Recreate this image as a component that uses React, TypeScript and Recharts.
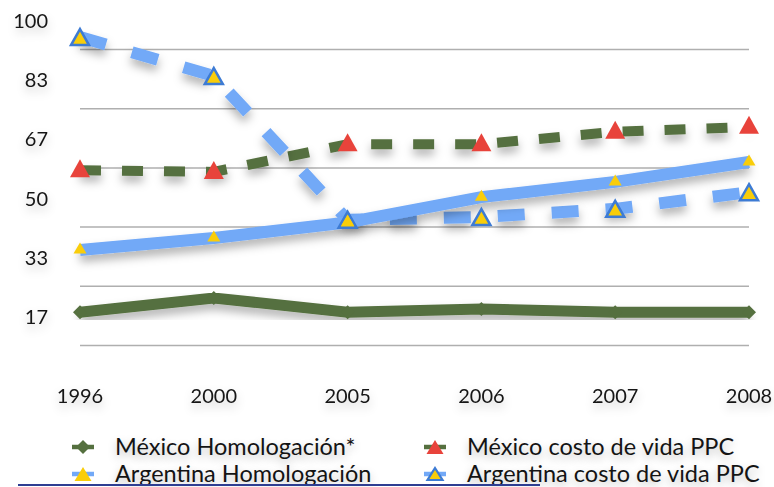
import React from 'react';
import { LineChart, Line, XAxis, YAxis, CartesianGrid } from 'recharts';

const years = ['1996', '2000', '2005', '2006', '2007', '2008'];
const mexicoHomologacion = [17.7, 21.7, 17.7, 18.6, 17.7, 17.7];
const mexicoCosto = [57.7, 57.2, 65.0, 65.0, 68.5, 69.9];
const argentinaHomologacion = [35.2, 38.6, 43.0, 50.1, 54.4, 60.0];
const argentinaCosto = [95.2, 84.2, 43.7, 44.5, 46.8, 51.5];
const yTicks = [16.67, 33.33, 50, 66.67, 83.33, 100];
const gridValues = [8.33, 25, 41.67, 58.33, 75, 91.67];

const data = years.map((year, i) => ({
  year,
  mexHom: mexicoHomologacion[i],
  mexCosto: mexicoCosto[i],
  argHom: argentinaHomologacion[i],
  argCosto: argentinaCosto[i],
}));

const GREEN = '#55703F';
const BLUE = '#72A9F7';
const RED = '#E8433B';
const YELLOW = '#F9CD0A';
const OUTLINE = '#3D7BD4';
const TEXT = '#141414';
const FONT = 'Lato, "Open Sans", sans-serif';

const triangle = (cx: number, cy: number, w: number, h: number) =>
  `M${cx},${cy - h / 2} L${cx + w / 2},${cy + h / 2} L${cx - w / 2},${cy + h / 2} Z`;

const diamondDot = (props: any) => {
  const { cx, cy, key } = props;
  return <path key={key} d={`M${cx - 7},${cy} L${cx},${cy - 7} L${cx + 7},${cy} L${cx},${cy + 7} Z`} fill={GREEN} />;
};

const redDot = (props: any) => {
  const { cx, cy, key } = props;
  return <path key={key} d={triangle(cx, cy - 2, 20, 18)} fill={RED} />;
};

const smallYellowDot = (props: any) => {
  const { cx, cy, key } = props;
  return <path key={key} d={triangle(cx, cy - 2, 13, 11)} fill={YELLOW} />;
};

const outlinedDot = (props: any) => {
  const { cx, cy, key } = props;
  return <path key={key} d={triangle(cx, cy, 18, 16)} fill={YELLOW} stroke={OUTLINE} strokeWidth={2.5} strokeLinejoin="miter" />;
};

const YTick = (props: any) => {
  const { y, payload } = props;
  return (
    <text x={48} y={y} textAnchor="end" dominantBaseline="central" fontSize={20} fill={TEXT} fontFamily={FONT} filter="url(#textShadow)">
      {Math.round(payload.value)}
    </text>
  );
};

const XTick = (props: any) => {
  const { x, payload } = props;
  return (
    <text x={x} y={395} textAnchor="middle" dominantBaseline="central" fontSize={20} fill={TEXT} fontFamily={FONT} filter="url(#textShadow)">
      {payload.value}
    </text>
  );
};

const legendItems = [
  { label: 'México Homologación*', color: GREEN, marker: 'diamond', left: 70, top: 431 },
  { label: 'México costo de vida PPC', color: GREEN, marker: 'red', left: 422, top: 431 },
  { label: 'Argentina Homologación', color: BLUE, marker: 'yellow', left: 70, top: 458 },
  { label: 'Argentina costo de vida PPC', color: BLUE, marker: 'outlined', left: 422, top: 458 },
];

function LegendIcon({ color, marker }: { color: string; marker: string }) {
  return (
    <svg width={26} height={22}>
      <line x1={2} y1={12} x2={24} y2={12} stroke={color} strokeWidth={4.5} />
      {marker === 'diamond' && <path d="M6,12 L13,5 L20,12 L13,19 Z" fill={GREEN} />}
      {marker === 'red' && <path d={triangle(13, 12, 17, 14)} fill={RED} />}
      {marker === 'yellow' && <path d={triangle(13, 12, 17, 14)} fill={YELLOW} />}
      {marker === 'outlined' && <path d={triangle(13, 12, 15, 12)} fill={YELLOW} stroke={OUTLINE} strokeWidth={2.2} />}
    </svg>
  );
}

export default function App() {
  return (
    <div style={{ position: 'absolute', left: 0, top: 0, width: 774, height: 487, background: '#fff', overflow: 'hidden' }}>
      <LineChart width={774} height={487} data={data} margin={{ top: 20, right: 25, bottom: 82, left: 0 }}>
        <defs>
          <filter id="shadow" x="-10%" y="-30%" width="120%" height="180%">
            <feDropShadow dx={0} dy={6} stdDeviation={5} floodColor="#000" floodOpacity={0.3} />
          </filter>
          <filter id="textShadow" x="-40%" y="-60%" width="180%" height="240%">
            <feDropShadow dx={0} dy={5} stdDeviation={5} floodColor="#000" floodOpacity={0.22} />
          </filter>
        </defs>
        <CartesianGrid horizontal vertical={false} horizontalValues={gridValues} stroke="#AFAFAF" strokeWidth={1.5} />
        <XAxis dataKey="year" axisLine={false} tickLine={false} height={30} tick={<XTick />} interval={0} />
        <YAxis
          type="number"
          domain={[0, 100]}
          ticks={yTicks}
          axisLine={false}
          tickLine={false}
          width={80}
          tick={<YTick />}
        />
        <Line
          dataKey="mexHom"
          type="linear"
          stroke={GREEN}
          strokeWidth={11}
          strokeLinejoin="miter"
          dot={diamondDot}
          filter="url(#shadow)"
          isAnimationActive={false}
        />
        <Line
          dataKey="mexCosto"
          type="linear"
          stroke={GREEN}
          strokeWidth={10}
          strokeDasharray="21 21"
          dot={redDot}
          filter="url(#shadow)"
          isAnimationActive={false}
        />
        <Line
          dataKey="argCosto"
          type="linear"
          stroke={BLUE}
          strokeWidth={12}
          strokeDasharray="27 27"
          dot={outlinedDot}
          filter="url(#shadow)"
          isAnimationActive={false}
        />
        <Line
          dataKey="argHom"
          type="linear"
          stroke={BLUE}
          strokeWidth={12}
          dot={smallYellowDot}
          filter="url(#shadow)"
          isAnimationActive={false}
        />
      </LineChart>
      {legendItems.map((item) => (
        <div
          key={item.label}
          style={{
            position: 'absolute',
            left: item.left,
            top: item.top,
            height: 30,
            display: 'flex',
            alignItems: 'center',
            fontFamily: FONT,
            fontSize: 23.5,
            color: TEXT,
            whiteSpace: 'nowrap',
            textShadow: '0 4px 8px rgba(0,0,0,0.25)',
          }}
        >
          <LegendIcon color={item.color} marker={item.marker} />
          <span style={{ marginLeft: 19 }}>{item.label}</span>
        </div>
      ))}
      <div style={{ position: 'absolute', left: 18, top: 484, width: 522, height: 2, background: '#2E3E92' }} />
    </div>
  );
}
